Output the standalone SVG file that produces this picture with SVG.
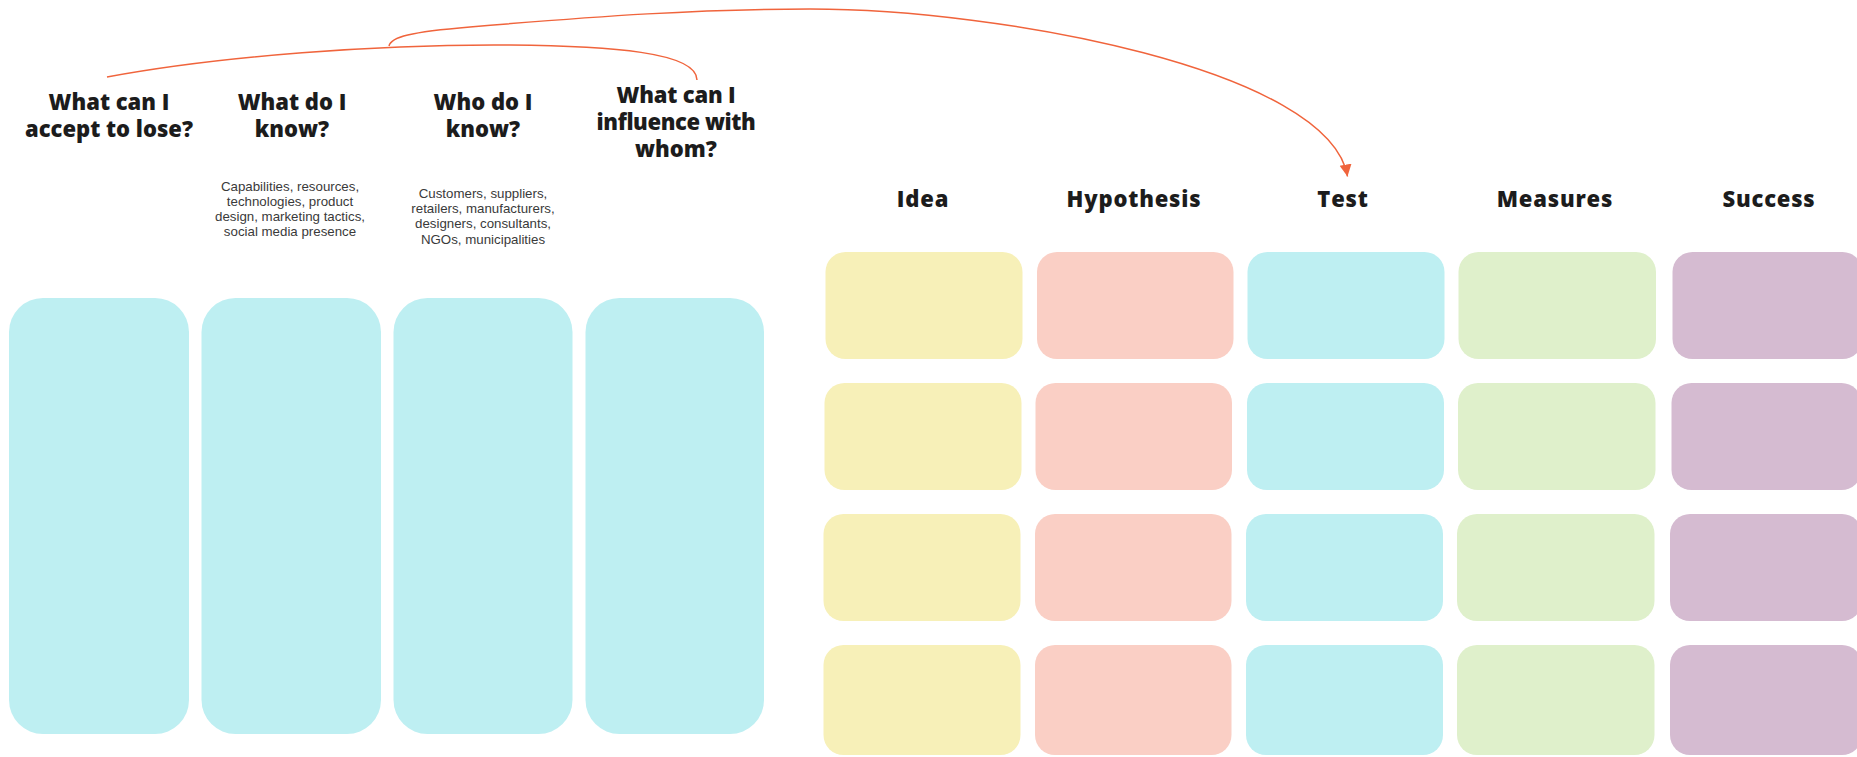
<svg xmlns="http://www.w3.org/2000/svg" width="1857" height="757" viewBox="0 0 1857 757">
  <defs>
    <style>
      .head { font-family: "Open Sans", "Liberation Sans", sans-serif; font-weight: 800; font-size: 22px; fill: #1c1c1c; text-anchor: middle; }
      .col { font-family: "Open Sans", "Liberation Sans", sans-serif; font-weight: 800; font-size: 22px; fill: #1c1c1c; text-anchor: middle; letter-spacing: 0.8px; }
      .note { font-family: "Liberation Sans", Arial, sans-serif; font-size: 13.3px; fill: #3a3a3a; text-anchor: middle; }
      .lane { fill: #BEEFF2; }
      .idea { fill: #F7F0B8; }
      .hyp { fill: #FACFC5; }
      .test { fill: #BEEFF2; }
      .meas { fill: #DFF0CB; }
      .succ { fill: #D5BBD1; }
      .link { fill: none; stroke: #F0643C; stroke-width: 1.5; }
    </style>
    <marker id="arrow" markerUnits="userSpaceOnUse" markerWidth="14" markerHeight="14" refX="12" refY="6" orient="auto">
      <path d="M0,0 L12,6 L0,12 Z" fill="#F0643C"/>
    </marker>
  </defs>

  <rect width="1857" height="757" fill="#ffffff"/>

  <!-- left: four question lanes -->
  <g id="q-lose">
    <text class="head" x="109" y="110">What can I</text>
    <text class="head" x="109" y="137">accept to lose?</text>
    <rect class="lane" x="9" y="298" width="180" height="436" rx="34" ry="34"/>
  </g>
  <g id="q-know-what">
    <text class="head" x="292" y="110">What do I</text>
    <text class="head" x="292" y="137">know?</text>
    <text class="note" x="290" y="190.5">Capabilities, resources,</text>
    <text class="note" x="290" y="205.8">technologies, product</text>
    <text class="note" x="290" y="221.1">design, marketing tactics,</text>
    <text class="note" x="290" y="236.4">social media presence</text>
    <rect class="lane" x="201.5" y="298" width="179.5" height="436" rx="34" ry="34"/>
  </g>
  <g id="q-know-who">
    <text class="head" x="483" y="110">Who do I</text>
    <text class="head" x="483" y="137">know?</text>
    <text class="note" x="483" y="197.8">Customers, suppliers,</text>
    <text class="note" x="483" y="213.1">retailers, manufacturers,</text>
    <text class="note" x="483" y="228.4">designers, consultants,</text>
    <text class="note" x="483" y="243.7">NGOs, municipalities</text>
    <rect class="lane" x="393.5" y="298" width="179" height="436" rx="34" ry="34"/>
  </g>
  <g id="q-influence">
    <text class="head" x="676" y="103" style="letter-spacing:-0.2px">What can I</text>
    <text class="head" x="676" y="130" style="letter-spacing:-0.4px">influence with</text>
    <text class="head" x="676" y="157">whom?</text>
    <rect class="lane" x="585.5" y="298" width="178.5" height="436" rx="34" ry="34"/>
  </g>

  <!-- right: experiment grid -->
  <g id="col-idea">
    <text class="col" x="923" y="207">Idea</text>
    <rect class="idea" x="825.5" y="252" width="197" height="107" rx="20"/>
    <rect class="idea" x="824.5" y="383" width="197" height="107" rx="20"/>
    <rect class="idea" x="823.5" y="514" width="197" height="107" rx="20"/>
    <rect class="idea" x="823.5" y="645" width="197" height="110" rx="20"/>
  </g>
  <g id="col-hypothesis">
    <text class="col" x="1134" y="207">Hypothesis</text>
    <rect class="hyp" x="1037" y="252" width="196.5" height="107" rx="20"/>
    <rect class="hyp" x="1035.5" y="383" width="196.5" height="107" rx="20"/>
    <rect class="hyp" x="1035" y="514" width="196.5" height="107" rx="20"/>
    <rect class="hyp" x="1035" y="645" width="196.5" height="110" rx="20"/>
  </g>
  <g id="col-test">
    <text class="col" x="1343" y="207">Test</text>
    <rect class="test" x="1247.5" y="252" width="197" height="107" rx="20"/>
    <rect class="test" x="1247" y="383" width="197" height="107" rx="20"/>
    <rect class="test" x="1246" y="514" width="197" height="107" rx="20"/>
    <rect class="test" x="1246" y="645" width="197" height="110" rx="20"/>
  </g>
  <g id="col-measures">
    <text class="col" x="1555" y="207">Measures</text>
    <rect class="meas" x="1458.5" y="252" width="197.5" height="107" rx="20"/>
    <rect class="meas" x="1458" y="383" width="197.5" height="107" rx="20"/>
    <rect class="meas" x="1457" y="514" width="197.5" height="107" rx="20"/>
    <rect class="meas" x="1457" y="645" width="197.5" height="110" rx="20"/>
  </g>
  <g id="col-success">
    <text class="col" x="1769" y="207">Success</text>
    <rect class="succ" x="1672.5" y="252" width="190" height="107" rx="20"/>
    <rect class="succ" x="1671.5" y="383" width="190" height="107" rx="20"/>
    <rect class="succ" x="1670" y="514" width="192" height="107" rx="20"/>
    <rect class="succ" x="1670" y="645" width="192" height="110" rx="20"/>
  </g>

  <!-- connectors -->
  <g id="connectors">
    <path class="link" d="M107,77 C220,56 380,44 510,45 C610,46 697,52 697,80"/>
    <path class="link" marker-end="url(#arrow)" d="M389,46 C391,37 410,32 470,27 C600,16 700,9 810,9 C1000,9 1330,70 1347.5,176.5"/>
  </g>
</svg>
